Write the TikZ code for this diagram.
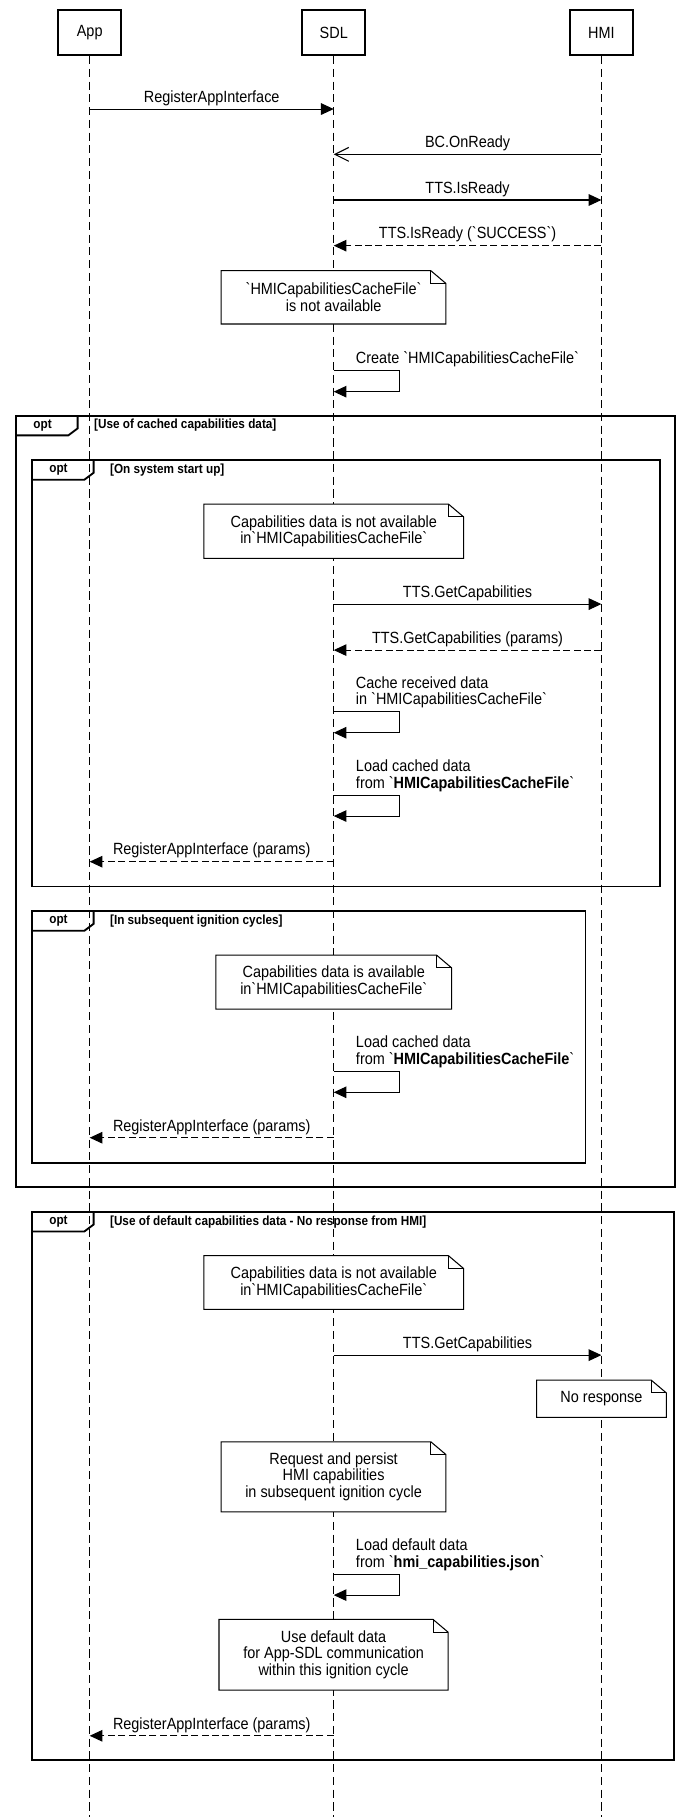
\documentclass[tikz,border=0pt]{standalone}
\usepackage{fontspec}
\setmainfont{Liberation Sans}[FakeStretch=0.89, Ligatures=TeXOff]
\usetikzlibrary{arrows.meta}
\newcommand\lblfont{\fontsize{14}{14.4}\selectfont}
\newcommand\condfont{\fontsize{11.4}{13}\selectfont\bfseries}
\tikzset{
  actor/.style={draw, line width=1.8pt, fill=white, minimum width=54.5pt, minimum height=39pt, inner sep=0pt, font=\lblfont},
  lifeline/.style={line width=0.9pt, dash pattern=on 7pt off 4pt},
  msg/.style={line width=0.9pt, -{Triangle[length=11pt,width=10pt]}},
  reply/.style={msg, dash pattern=on 6pt off 3pt},
  async/.style={line width=0.9pt, -{Straight Barb[length=12pt,width=12pt]}},
  lbl/.style={font=\lblfont, inner sep=0pt, anchor=base, yshift=5.8pt},
  lblL/.style={font=\lblfont, inner sep=0pt, anchor=base west},
  framestyle/.style={line width=1.6pt},
  notestyle/.style={line width=0.9pt},
  notetext/.style={font=\lblfont, align=center, inner sep=0pt},
  cond/.style={font=\condfont, inner sep=0pt, anchor=west},
  optlbl/.style={font=\condfont, inner sep=0pt},
}
% name, x1, y1, x2, y2, text
\newcommand\notebox[6]{%
  \fill[white] (#2,#3) -- ({#4-13},#3) -- (#4,{#3+11}) -- (#4,#5) -- (#2,#5) -- cycle;
  \draw[notestyle] (#2,#3) -- ({#4-13},#3) -- (#4,{#3+11}) -- (#4,#5) -- (#2,#5) -- cycle;
  \draw[notestyle] ({#4-13},#3) -- ({#4-13},{#3+11}) -- (#4,{#3+11});
  \node[notetext] (#1) at ({(#2+#4)/2},{(#3+#5)/2}) {#6};
}
% name, x1, y1, x2, y2, condition
\newcommand\optframe[6]{%
  \draw[framestyle] (#2,#3) rectangle (#4,#5);
  \draw[framestyle] ({#2+53},#3) -- ({#2+53},{#3+11}) -- ({#2+45},{#3+17}) -- (#2,{#3+17});
  \node[optlbl] (#1opt) at ({#2+22.7},{#3+8.5}) {opt};
  \node[cond] (#1cond) at ({#2+67},{#3+8.5}) {[#6]};
}
\begin{document}
\begin{tikzpicture}[x=1pt,y=-1pt]
\useasboundingbox (0,0) rectangle (596.3,1568);

% actors
\node[actor] (app) at (77.4,28) {App};
\node[actor] (sdl) at (288,28) {SDL};
\node[actor] (hmi) at (519,28) {HMI};
\coordinate (appEnd) at (77.4,1568);
\coordinate (sdlEnd) at (288,1568);
\coordinate (hmiEnd) at (519,1568);
\draw[lifeline] (app.south) -- (appEnd);
\draw[lifeline] (sdl.south) -- (sdlEnd);
\draw[lifeline] (hmi.south) -- (hmiEnd);

% frames
\optframe{fA}{14}{358.7}{582.5}{1024.1}{Use of cached capabilities data}
\optframe{fB}{27.8}{397}{569.2}{765}{On system start up}
\optframe{fC}{27.8}{786.2}{505.3}{1003.4}{In subsequent ignition cycles}
\optframe{fD}{27.8}{1045.7}{581.7}{1518.9}{Use of default capabilities data - No response from HMI}

% coordinates on lifelines
\coordinate (a1) at (77.4,94.1);   \coordinate (s1) at (288,94.1);
\coordinate (h2) at (519,133.2);   \coordinate (s2) at (288,133.2);
\coordinate (s3) at (288,172.6);   \coordinate (h3) at (519,172.6);
\coordinate (h4) at (519,212);     \coordinate (s4) at (288,212);
\coordinate (s5t) at (288,319.9);  \coordinate (s5b) at (288,338);
\coordinate (s6) at (288,521.3);   \coordinate (h6) at (519,521.3);
\coordinate (h7) at (519,561);     \coordinate (s7) at (288,561);
\coordinate (s8t) at (288,614.2);  \coordinate (s8b) at (288,632.3);
\coordinate (s9t) at (288,686.1);  \coordinate (s9b) at (288,704.2);
\coordinate (s10) at (288,743.6);  \coordinate (a10) at (77.4,743.6);
\coordinate (s11t) at (288,924.3); \coordinate (s11b) at (288,942.6);
\coordinate (s12) at (288,981.8);  \coordinate (a12) at (77.4,981.8);
\coordinate (s13) at (288,1169.4); \coordinate (h13) at (519,1169.4);
\coordinate (s14t) at (288,1358.4); \coordinate (s14b) at (288,1376.5);
\coordinate (s15) at (288,1497.9); \coordinate (a15) at (77.4,1497.9);

% notes
\notebox{n1}{190.9}{233.6}{384.8}{279.6}{`HMICapabilitiesCacheFile`\\is not available}
\notebox{n2}{176}{435}{400}{481.8}{Capabilities data is not available\\in`HMICapabilitiesCacheFile`}
\notebox{n3}{186.3}{824.2}{389.7}{870.8}{Capabilities data is available\\in`HMICapabilitiesCacheFile`}
\notebox{n4}{176}{1083.6}{400}{1130}{Capabilities data is not available\\in`HMICapabilitiesCacheFile`}
\notebox{n5}{463}{1191}{575}{1223.2}{No response}
\notebox{n6}{190.9}{1244.2}{384.8}{1304.6}{Request and persist\\HMI capabilities\\in subsequent ignition cycle}
\notebox{n7}{189}{1397.5}{386.7}{1458.5}{Use default data\\for App-SDL communication\\within this ignition cycle}

% messages
\draw[msg] (a1) -- node[lbl] (l1) {RegisterAppInterface} (s1);
\draw[async] (h2) -- node[lbl] (l2) {BC.OnReady} (s2);
\draw[msg] (s3) -- node[lbl] (l3) {TTS.IsReady} (h3);
\draw[reply] (h4) -- node[lbl] (l4) {TTS.IsReady (`SUCCESS`)} (s4);

\draw[msg] (s5t) -- ++(56.5,0) |- (s5b);
\node[lblL] (l5) at (307,314) {Create `HMICapabilitiesCacheFile`};

\draw[msg] (s6) -- node[lbl] (l6) {TTS.GetCapabilities} (h6);
\draw[reply] (h7) -- node[lbl] (l7) {TTS.GetCapabilities (params)} (s7);

\draw[msg] (s8t) -- ++(56.5,0) |- (s8b);
\node[lblL] (l8a) at (307,593.8) {Cache received data};
\node[lblL] (l8b) at (307,608.2) {in `HMICapabilitiesCacheFile`};

\draw[msg] (s9t) -- ++(56.5,0) |- (s9b);
\node[lblL] (l9a) at (307,665.7) {Load cached data};
\node[lblL] (l9b) at (307,680.1) {from `\textbf{HMICapabilitiesCacheFile}`};

\draw[reply] (s10) -- node[lbl] (l10) {RegisterAppInterface (params)} (a10);

\draw[msg] (s11t) -- ++(56.5,0) |- (s11b);
\node[lblL] (l11a) at (307,903.9) {Load cached data};
\node[lblL] (l11b) at (307,918.3) {from `\textbf{HMICapabilitiesCacheFile}`};

\draw[reply] (s12) -- node[lbl] (l12) {RegisterAppInterface (params)} (a12);

\draw[msg] (s13) -- node[lbl] (l13) {TTS.GetCapabilities} (h13);

\draw[msg] (s14t) -- ++(56.5,0) |- (s14b);
\node[lblL] (l14a) at (307,1338) {Load default data};
\node[lblL] (l14b) at (307,1352.4) {from `\textbf{hmi\_capabilities.json}`};

\draw[reply] (s15) -- node[lbl] (l15) {RegisterAppInterface (params)} (a15);
\end{tikzpicture}
\end{document}
